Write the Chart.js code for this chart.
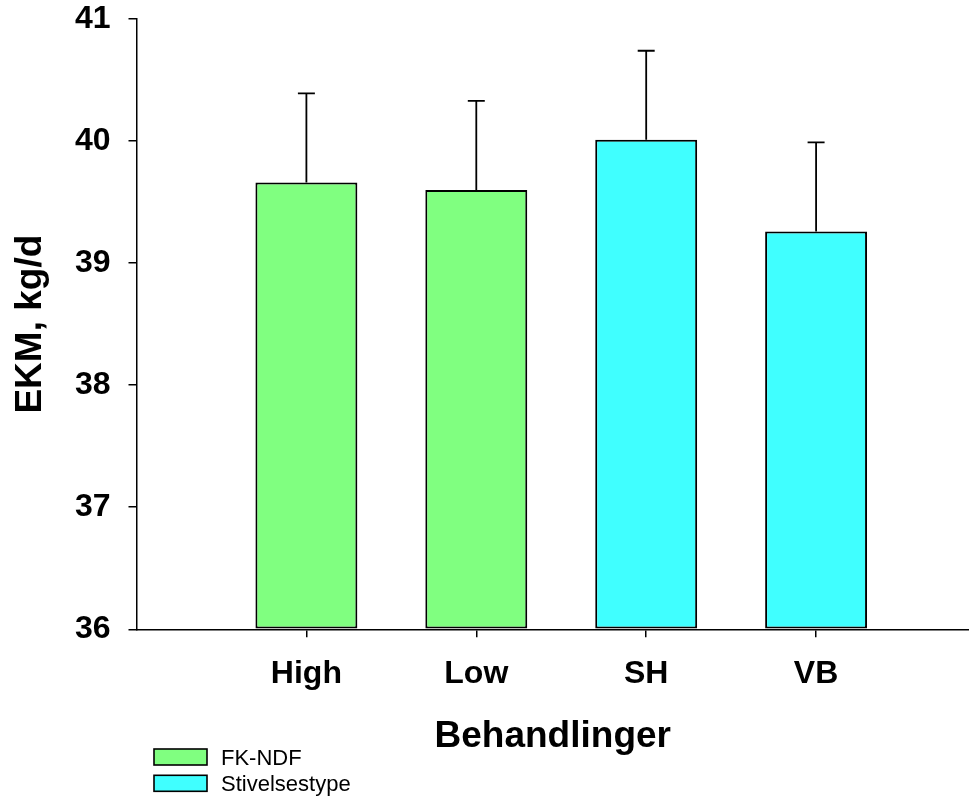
<!DOCTYPE html>
<html>
<head>
<meta charset="utf-8">
<script src="https://cdn.jsdelivr.net/npm/chart.js@4/dist/chart.umd.min.js"></script>
<style>
  html, body { margin: 0; padding: 0; background: #ffffff; }
  #wrap { width: 969px; height: 796px; }
</style>
</head>
<body>
<div id="wrap"><canvas id="c" width="969" height="796"></canvas></div>
<script>
// ---- data ----
const categories = ['High', 'Low', 'SH', 'VB'];
const seriesNames = ['FK-NDF', 'Stivelsestype'];
const fkNdfValues = [39.66, 39.60, null, null];
const stivelseValues = [null, null, 40.01, 39.26];
const errorValues = [0.73, 0.73, 0.73, 0.73];
const yTickValues = [36, 37, 38, 39, 40, 41];

const FONT = "'Liberation Sans', Arial, sans-serif";

function toPoints(vals) {
  return categories.map((c, i) => ({ x: i + 1, y: vals[i] })).filter(p => p.y !== null);
}

const errorBarPlugin = {
  id: 'errorBars',
  afterDatasetsDraw(chart) {
    const ctx = chart.ctx;
    const yScale = chart.scales.y;
    ctx.save();
    ctx.strokeStyle = '#000';
    ctx.lineWidth = 1.8;
    chart.data.datasets.forEach((ds, di) => {
      const meta = chart.getDatasetMeta(di);
      meta.data.forEach((el, j) => {
        const pt = ds.data[j];
        const idx = pt.x - 1;
        const err = errorValues[idx];
        const yTop = yScale.getPixelForValue(pt.y + err);
        ctx.beginPath();
        ctx.moveTo(el.x, el.y);
        ctx.lineTo(el.x, yTop);
        ctx.moveTo(el.x - 8.5, yTop);
        ctx.lineTo(el.x + 8.5, yTop);
        ctx.stroke();
      });
    });
    ctx.restore();
  }
};

const legendPlugin = {
  id: 'customLegend',
  afterDraw(chart) {
    const ctx = chart.ctx;
    ctx.save();
    ctx.font = '22px ' + FONT;
    ctx.textBaseline = 'alphabetic';
    ctx.textAlign = 'left';
    chart.data.datasets.forEach((ds, i) => {
      const top = 749 + i * 26.3;
      ctx.fillStyle = ds.backgroundColor;
      ctx.fillRect(154, top, 53, 16);
      ctx.strokeStyle = '#000';
      ctx.lineWidth = 1.6;
      ctx.strokeRect(154, top, 53, 16);
      ctx.fillStyle = '#000';
      ctx.fillText(ds.label, 221, top + 16);
    });
    ctx.restore();
  }
};

new Chart(document.getElementById('c'), {
  type: 'bar',
  data: {
    datasets: [
      {
        label: seriesNames[0],
        data: toPoints(fkNdfValues),
        backgroundColor: '#80FF80',
        borderColor: '#000',
        borderWidth: 2,
        borderSkipped: false,
        base: 36,
        categoryPercentage: 1,
        barPercentage: 0.6
      },
      {
        label: seriesNames[1],
        data: toPoints(stivelseValues),
        backgroundColor: '#40FFFF',
        borderColor: '#000',
        borderWidth: 2,
        borderSkipped: false,
        base: 36,
        categoryPercentage: 1,
        barPercentage: 0.6
      }
    ]
  },
  options: {
    responsive: false,
    animation: false,
    events: [],
    layout: { padding: { left: 0, right: 0, top: 19, bottom: 0 } },
    plugins: {
      legend: { display: false },
      tooltip: { enabled: false },
      title: { display: false }
    },
    scales: {
      x: {
        type: 'linear',
        stacked: true,
        offset: false,
        min: 0,
        max: 4.9,
        afterBuildTicks(scale) {
          scale.ticks = categories.map((c, i) => ({ value: i + 1 }));
        },
        afterFit(scale) {
          scale.height = 796 - 629.3;
          scale.paddingLeft = 0;
          scale.paddingRight = 0;
        },
        ticks: {
          color: '#000',
          font: { family: FONT, size: 32, weight: 'bold' },
          padding: 18,
          maxRotation: 0,
          autoSkip: false,
          callback: (v) => categories[v - 1] || ''
        },
        grid: {
          display: true,
          offset: false,
          drawOnChartArea: false,
          drawTicks: true,
          tickLength: 8,
          color: '#000',
          lineWidth: 1.5
        },
        border: { display: true, color: '#000', width: 1.5 },
        title: {
          display: true,
          text: 'Behandlinger',
          color: '#000',
          font: { family: FONT, size: 37, weight: 'bold' },
          padding: { top: 0, bottom: 37 }
        }
      },
      y: {
        type: 'linear',
        min: 36,
        max: 41,
        afterBuildTicks(scale) {
          scale.ticks = yTickValues.map(v => ({ value: v }));
        },
        afterFit(scale) {
          scale.width = 136.5;
          scale.paddingTop = 0;
          scale.paddingBottom = 0;
        },
        ticks: {
          color: '#000',
          font: { family: FONT, size: 32, weight: 'bold' },
          padding: 18
        },
        grid: {
          display: true,
          drawOnChartArea: false,
          drawTicks: true,
          tickLength: 8,
          color: '#000',
          lineWidth: 1.5
        },
        border: { display: true, color: '#000', width: 1.5 },
        title: {
          display: true,
          text: 'EKM, kg/d',
          color: '#000',
          font: { family: FONT, size: 37, weight: 'bold' },
          padding: { top: 8.5, bottom: 0 }
        }
      }
    }
  },
  plugins: [errorBarPlugin, legendPlugin]
});
</script>
</body>
</html>
